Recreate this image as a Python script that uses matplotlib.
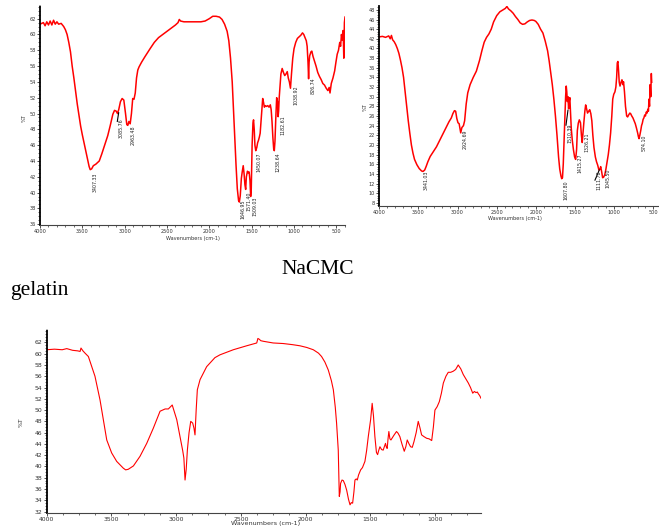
"""FTIR spectra of gelatin, NaCMC and their blend (three-panel figure)."""

import matplotlib
matplotlib.use("Agg")
import matplotlib.pyplot as plt
from matplotlib.ticker import MultipleLocator

# ---- gelatin spectrum (top left) ----
gel_wn = [4000, 3960, 3940, 3920, 3900, 3880, 3860, 3840, 3820, 3800, 3780, 3750, 3720, 3700,
          3680, 3660, 3640, 3620, 3600, 3580, 3560, 3540, 3520, 3500, 3470, 3440, 3420, 3407,
          3390, 3370, 3340, 3300, 3270, 3240, 3200, 3170, 3140, 3120, 3100, 3085, 3070, 3050,
          3030, 3010, 2990, 2975, 2963, 2950, 2935, 2920, 2905, 2890, 2875, 2860, 2845, 2830,
          2800, 2760, 2700, 2650, 2600, 2550, 2500, 2450, 2400, 2370, 2355, 2340, 2300, 2200,
          2100, 2050, 2000, 1960, 1920, 1880, 1850, 1820, 1790, 1770, 1750, 1730, 1715, 1700,
          1685, 1670, 1655, 1646, 1635, 1622, 1612, 1600, 1590, 1580, 1571, 1563, 1550, 1540,
          1530, 1520, 1512, 1505, 1495, 1485, 1478, 1470, 1462, 1452, 1440, 1430, 1420, 1410,
          1400, 1390, 1380, 1370, 1360, 1350, 1340, 1325, 1310, 1295, 1280, 1270, 1260, 1250,
          1240, 1233, 1225, 1215, 1205, 1195, 1188, 1182, 1175, 1165, 1155, 1140, 1125, 1110,
          1095, 1080, 1068, 1055, 1042, 1030, 1015, 1000, 980, 960, 940, 920, 900, 885, 870,
          855, 845, 835, 828, 822, 815, 800, 790, 775, 760, 740, 720, 700, 680, 660, 640, 620,
          600, 585, 575, 560, 540, 520, 505, 490, 475, 460, 450, 440, 430, 420, 412, 405, 398]
gel_t = [61.3, 61.5, 61.1, 61.6, 61.2, 61.7, 61.2, 61.8, 61.3, 61.6, 61.3, 61.4, 61.0, 60.6,
         60.0, 59.0, 57.8, 56.0, 54.5, 52.8, 51.2, 49.8, 48.4, 47.3, 45.8, 44.3, 43.3, 42.9,
         43.0, 43.4, 43.6, 44.0, 44.9, 45.9, 47.2, 48.5, 49.9, 50.4, 50.3, 50.0, 50.5, 51.5,
         51.9, 51.7, 50.0, 48.6, 48.5, 49.0, 48.7, 50.0, 51.9, 51.8, 52.6, 54.5, 55.5, 55.9,
         56.5, 57.2, 58.2, 59.0, 59.6, 60.0, 60.4, 60.8, 61.2, 61.5, 61.9, 61.7, 61.6, 61.6,
         61.6, 61.7, 62.0, 62.3, 62.3, 62.2, 61.9, 61.3, 60.4, 59.2, 57.0, 54.0, 50.5, 47.0,
         43.5, 40.5, 39.0, 38.8, 39.6, 41.8, 42.6, 43.4, 42.4, 41.0, 40.4, 42.0, 42.7, 42.5,
         42.6, 41.5, 39.5, 40.5, 46.0, 48.8, 49.2, 48.0, 46.0, 45.3, 45.7, 46.3, 46.6, 47.0,
         47.5, 49.0, 50.5, 51.9, 51.4, 50.8, 51.0, 50.9, 51.0, 50.8, 51.1, 50.5, 49.0, 47.0,
         45.5, 45.3, 46.5, 49.5, 52.0, 51.5, 49.6, 50.3, 52.0, 53.5, 55.0, 55.7, 55.2, 54.8,
         55.0, 55.3, 54.5, 54.0, 53.2, 55.0, 57.0, 58.2, 59.0, 59.5, 59.7, 59.9, 60.2, 60.0,
         59.6, 59.2, 58.5, 56.5, 54.4, 56.5, 57.3, 57.8, 57.9, 57.2, 56.7, 56.0, 55.2, 54.7,
         54.3, 53.8, 53.6, 53.2, 52.9, 53.3, 52.6, 53.8, 54.5, 55.4, 56.5, 57.5, 58.0, 59.0,
         58.5, 60.0, 59.3, 60.5, 57.0, 61.5, 62.2]
gel_peaks = ["3407.33", "3085.76", "2963.48", "1646.95", "1571.40", "1509.03",
             "1450.07", "1238.64", "1182.61", "1038.92", "826.74"]
# where each peak label sits (text centre wavenumber, top of text in %T)
gel_label_wn = [3350, 3047, 2905, 1599, 1528, 1457, 1410, 1186, 1127, 977, 772]
gel_label_t = [42.6, 49.4, 48.5, 39.1, 40.1, 39.5, 45.1, 45.1, 49.8, 53.6, 54.6]

# ---- NaCMC spectrum (top right) ----
cmc_wn = [4000, 3960, 3920, 3880, 3860, 3845, 3830, 3810, 3790, 3770, 3750, 3730, 3710, 3690,
          3670, 3650, 3630, 3610, 3590, 3570, 3550, 3520, 3490, 3460, 3441, 3420, 3400, 3380,
          3350, 3310, 3270, 3230, 3190, 3150, 3110, 3080, 3060, 3040, 3025, 3010, 2995, 2980,
          2960, 2945, 2925, 2910, 2890, 2870, 2840, 2800, 2760, 2720, 2690, 2660, 2630, 2600,
          2570, 2540, 2500, 2460, 2420, 2390, 2370, 2350, 2320, 2290, 2260, 2230, 2200, 2170,
          2140, 2110, 2080, 2050, 2020, 2000, 1970, 1940, 1910, 1880, 1850, 1830, 1810, 1790,
          1770, 1750, 1730, 1710, 1695, 1680, 1670, 1660, 1650, 1640, 1630, 1620, 1612, 1605,
          1598, 1590, 1582, 1575, 1566, 1558, 1548, 1535, 1520, 1505, 1492, 1480, 1470, 1458,
          1445, 1430, 1418, 1408, 1398, 1386, 1374, 1364, 1352, 1340, 1325, 1312, 1298, 1285,
          1272, 1258, 1240, 1225, 1210, 1195, 1183, 1172, 1160, 1147, 1135, 1120, 1105, 1090,
          1075, 1060, 1045, 1030, 1018, 1005, 990, 978, 968, 960, 952, 944, 935, 925, 912, 900,
          890, 880, 868, 855, 840, 828, 815, 800, 790, 775, 760, 745, 730, 715, 700, 690, 682,
          672, 660, 650, 640, 630, 620, 610, 600, 590, 580, 570, 562, 555, 548, 540, 532, 525,
          520]
cmc_t = [42.4, 42.5, 42.3, 42.6, 42.0, 42.7, 41.8, 41.4, 40.8, 40.0, 39.0, 37.6, 36.0, 34.0,
         31.0, 28.2, 25.0, 22.4, 20.0, 18.3, 17.0, 15.9, 15.1, 14.6, 14.5, 14.8, 15.6, 16.5,
         17.6, 18.6, 19.6, 20.9, 22.2, 23.5, 24.8, 25.6, 26.5, 27.1, 27.0, 25.5, 24.6, 24.4,
         22.5, 23.6, 24.0, 25.0, 28.5, 30.8, 32.5, 34.0, 35.3, 37.5, 39.5, 41.3, 42.3, 43.0,
         44.0, 45.5, 46.8, 47.6, 48.0, 48.3, 48.7, 48.2, 47.8, 47.3, 46.6, 46.0, 45.3, 45.0,
         45.1, 45.5, 45.8, 45.9, 45.8, 45.6, 45.0, 44.0, 43.2, 41.5, 39.5, 37.4, 35.0, 32.5,
         29.5, 26.0, 22.0, 17.5, 15.0, 13.6, 13.0, 13.2, 16.0, 20.5, 25.5, 30.0, 32.2, 31.0,
         29.0, 30.0, 27.5, 29.0, 29.8, 27.0, 23.5, 21.0, 19.0, 17.5, 17.0, 19.0, 23.0, 24.5,
         25.2, 24.6, 22.0, 20.5, 22.5, 24.8, 27.0, 28.3, 27.5, 26.6, 27.0, 27.3, 26.5, 25.0,
         22.0, 19.5, 17.5, 16.5, 15.8, 14.8, 14.9, 15.5, 14.5, 13.2, 13.3, 13.8, 15.0, 16.5,
         18.0, 20.0, 22.5, 26.0, 29.5, 30.5, 31.0, 32.0, 34.0, 37.0, 37.3, 35.5, 33.0, 32.2,
         33.0, 33.5, 32.5, 33.1, 31.0, 28.0, 26.0, 25.8, 26.2, 26.6, 26.5, 26.0, 25.6, 25.0,
         24.4, 23.5, 22.5, 21.7, 21.3, 22.0, 23.0, 24.0, 24.5, 25.3, 25.6, 26.2, 26.0, 26.8,
         26.6, 27.4, 27.0, 29.5, 28.0, 32.5, 30.0, 34.8, 33.0]
cmc_peaks = ["3441.03", "2924.69", "1607.80", "1510.39", "1415.27", "1326.21",
             "1111.78", "1045.50", "574.10"]
cmc_label_wn = [3403, 2905, 1619, 1564, 1437, 1351, 1190, 1075, 619]
cmc_label_t = [14.8, 23.1, 12.7, 24.5, 18.3, 22.5, 14.8, 15.2, 22.1]

# ---- blend spectrum (bottom) ----
mix_wn = [4000, 3940, 3880, 3845, 3800, 3760, 3742, 3735, 3720, 3704, 3678, 3652, 3627, 3588,
          3562, 3536, 3498, 3459, 3408, 3390, 3370, 3330, 3279, 3227, 3176, 3124, 3085, 3060,
          3030, 2995, 2970, 2949, 2940, 2931, 2922, 2913, 2900, 2887, 2872, 2862, 2854, 2845,
          2836, 2815, 2764, 2700, 2661, 2558, 2455, 2377, 2368, 2360, 2345, 2326, 2250, 2172,
          2100, 2043, 1990, 1940, 1900, 1876, 1850, 1824, 1800, 1785, 1770, 1760, 1747, 1739,
          1733, 1729, 1718, 1708, 1695, 1682, 1668, 1656, 1646, 1636, 1626, 1618, 1608, 1600,
          1590, 1574, 1560, 1541, 1528, 1515, 1497, 1485, 1475, 1464, 1452, 1443, 1435, 1425,
          1412, 1400, 1390, 1382, 1375, 1369, 1362, 1356, 1348, 1340, 1318, 1297, 1285, 1271,
          1255, 1237, 1225, 1214, 1200, 1188, 1175, 1162, 1145, 1129, 1115, 1103, 1085, 1064,
          1045, 1025, 1012, 1000, 983, 966, 950, 935, 915, 897, 878, 858, 840, 820, 800, 781,
          760, 742, 725, 708, 695, 683, 672, 665, 655, 644]
mix_t = [60.7, 60.8, 60.7, 60.9, 60.6, 60.5, 60.4, 61.0, 60.5, 60.1, 59.5, 57.7, 56.0, 51.8,
         48.3, 44.7, 42.4, 40.9, 39.7, 39.4, 39.5, 40.1, 41.8, 44.1, 46.8, 49.8, 50.2, 50.2,
         50.9, 48.3, 45.3, 42.8, 41.5, 37.6, 39.5, 42.9, 46.0, 48.0, 47.7, 46.8, 45.6, 50.0,
         53.6, 55.4, 57.7, 59.3, 59.8, 60.7, 61.4, 61.9, 62.7, 62.6, 62.3, 62.2, 61.9, 61.8,
         61.6, 61.4, 61.1, 60.7, 60.1, 59.5, 58.5, 57.1, 55.2, 53.6, 50.5, 47.7, 42.9, 34.7,
         35.5, 37.0, 37.6, 37.5, 36.8, 35.8, 34.2, 33.2, 33.6, 33.5, 35.5, 37.6, 37.8, 37.6,
         38.5, 39.4, 39.8, 40.9, 42.8, 45.3, 48.3, 51.2, 49.0, 45.3, 42.5, 42.1, 42.8, 43.5,
         43.0, 42.9, 43.6, 44.1, 43.4, 43.2, 45.0, 46.2, 44.9, 44.7, 45.5, 46.2, 45.9, 45.3,
         44.0, 42.7, 43.5, 44.7, 44.0, 43.5, 43.4, 44.4, 46.0, 48.0, 46.8, 45.6, 45.3, 45.0,
         44.9, 44.6, 47.0, 50.0, 50.6, 51.5, 53.0, 54.8, 56.0, 56.7, 56.7, 56.9, 57.2, 58.0,
         57.3, 56.3, 55.5, 54.8, 54.0, 53.0, 53.3, 53.1, 53.2, 52.9, 52.6, 52.1]

LINE_RED = "#ff0000"
TICK_GREY = "#333333"

fig = plt.figure(figsize=(6.59, 5.29), dpi=100)
W, H = 659.0, 529.0


def add_panel(left, top, right, bottom):
    """Axes from pixel box (origin top left of the figure)."""
    return fig.add_axes([left / W, 1 - bottom / H, (right - left) / W, (bottom - top) / H])


def style(ax, xlim, ylim, xticks, yticks, xminor, yminor, fs):
    ax.set_xlim(*xlim)
    ax.set_ylim(*ylim)
    ax.set_facecolor("none")
    for side in ("top", "right"):
        ax.spines[side].set_visible(False)
    ax.spines["left"].set_linestyle((0, (1, 1)))
    ax.spines["left"].set_linewidth(1.3)
    ax.spines["bottom"].set_linewidth(0.8)
    ax.spines["bottom"].set_color("#444444")
    ax.set_xticks(xticks, [str(t) for t in xticks])
    ax.set_yticks(yticks, [str(t) for t in yticks])
    ax.xaxis.set_minor_locator(MultipleLocator(xminor))
    ax.yaxis.set_minor_locator(MultipleLocator(yminor))
    ax.tick_params(which="major", labelsize=fs, length=2, width=0.6, pad=1, colors=TICK_GREY)
    ax.tick_params(which="minor", length=1.2, width=0.5, colors=TICK_GREY)


# top left: gelatin
ax1 = add_panel(40, 6, 345, 225)
ax1.plot(gel_wn, gel_t, color=LINE_RED, lw=1.1)
style(ax1, (4000, 398), (35.9, 63.6), list(range(4000, 499, -500)), list(range(36, 63, 2)),
      100, 0.5, 3.6)
for txt, wn, t in zip(gel_peaks, gel_label_wn, gel_label_t):
    ax1.text(wn, t, txt, rotation=90, ha="center", va="top", fontsize=3.4, color="#222222")
ax1.plot([3087, 3071], [49.0, 50.1], color="black", lw=0.8)
ax1.set_xlabel("Wavenumbers (cm-1)", fontsize=3.6, color=TICK_GREY)
ax1.set_ylabel("%T", fontsize=3.6, color=TICK_GREY)
ax1.xaxis.set_label_coords(0.502, -0.05)
ax1.yaxis.set_label_coords(-0.043, 0.489)

# top right: NaCMC
ax2 = add_panel(379.3, 6, 659, 205.7)
ax2.plot(cmc_wn, cmc_t, color=LINE_RED, lw=1.1)
style(ax2, (4000, 427), (7.4, 48.8), list(range(4000, 499, -500)), list(range(8, 49, 2)),
      100, 0.5, 3.6)
for txt, wn, t in zip(cmc_peaks, cmc_label_wn, cmc_label_t):
    ax2.text(wn, t, txt, rotation=90, ha="center", va="top", fontsize=3.4, color="#222222")
ax2.plot([1615, 1590], [24.1, 27.2], color="black", lw=0.8)
ax2.plot([1245, 1190], [12.7, 14.8], color="black", lw=0.8)
ax2.set_xlabel("Wavenumbers (cm-1)", fontsize=3.6, color=TICK_GREY)
ax2.set_ylabel("%T", fontsize=3.6, color=TICK_GREY)
ax2.xaxis.set_label_coords(0.485, -0.051)
ax2.yaxis.set_label_coords(-0.040, 0.494)

# bottom: blend
ax3 = add_panel(46.7, 330, 481, 513.3)
ax3.plot(mix_wn, mix_t, color=LINE_RED, lw=0.8)
style(ax3, (4000, 644), (31.7, 64.2), list(range(4000, 999, -500)), list(range(32, 63, 2)),
      125, 0.5, 4.4)
ax3.set_xlabel("Wavenumbers (cm-1)", fontsize=4.6, color=TICK_GREY)
ax3.set_ylabel("%T", fontsize=4.4, color=TICK_GREY)
ax3.xaxis.set_label_coords(0.503, -0.042)
ax3.yaxis.set_label_coords(-0.052, 0.498)

# sample captions
fig.text(281 / W, 1 - 274 / H, "NaCMC", fontsize=15.5, family="Liberation Serif",
         ha="left", va="baseline")
fig.text(10 / W, 1 - 295 / H, "gelatin", fontsize=15.5, family="Liberation Serif",
         ha="left", va="baseline")

fig.savefig("out.png", dpi=100)
